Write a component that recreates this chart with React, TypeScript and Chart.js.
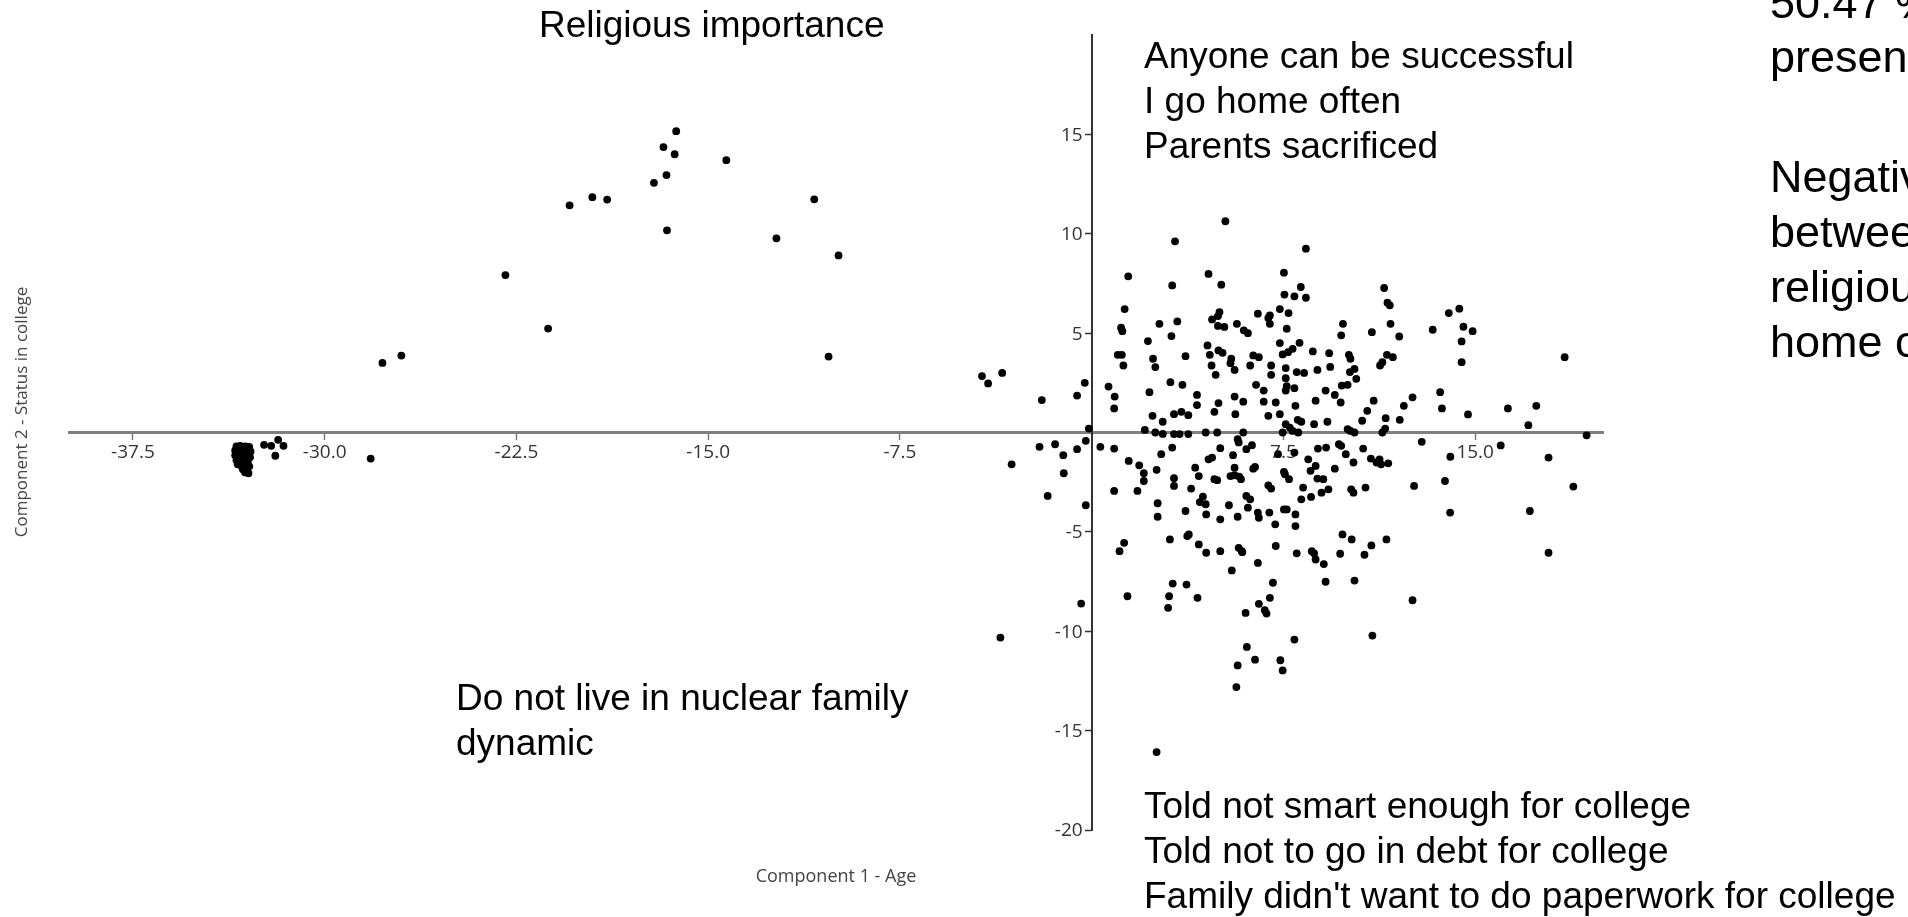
import React, { useEffect, useRef } from 'react';
import { Chart, registerables } from 'chart.js';

Chart.register(...registerables);

// ---- axis data ----
const xRange = [-40, 20];
const yRange = [-20, 20];
const xTickValues = [-37.5, -30, -22.5, -15, -7.5, 7.5, 15];
const yTickValues = [-20, -15, -10, -5, 5, 10, 15];
const xAxisTitle = 'Component 1 - Age';
const yAxisTitle = 'Component 2 - Status in college';

// ---- slide notes ----
const noteTopLeft = ['Religious importance'];
const noteTopRight = ['Anyone can be successful', 'I go home often', 'Parents sacrificed'];
const noteBottomLeft = ['Do not live in nuclear family', 'dynamic'];
const noteBottomRight = [
  'Told not smart enough for college',
  'Told not to go in debt for college',
  "Family didn't want to do paperwork for college",
];
const sideNoteA = ['50.47 % of variance', 'presented'];
const sideNoteB = ['Negative correlation', 'between', 'religious', 'home often'];

// ---- scores (Component 1, Component 2) ----
const clusterScores: [number, number][] = [
  [-33.45, -0.7], [-33.3, -0.68], [-33.1, -0.7], [-32.95, -0.72], [-33.5, -0.9],
  [-33.35, -0.95], [-33.2, -0.88], [-33.05, -0.92], [-32.9, -0.95], [-33.5, -1.15],
  [-33.35, -1.2], [-33.2, -1.1], [-33.05, -1.18], [-32.92, -1.25], [-33.45, -1.4],
  [-33.3, -1.45], [-33.15, -1.38], [-33.0, -1.42], [-33.4, -1.6], [-33.25, -1.68],
  [-33.1, -1.62], [-32.95, -1.7], [-33.2, -1.85], [-33.05, -1.9], [-32.98, -2.05],
  [-33.12, -2.0],
];

const farLeftScores: [number, number][] = [
  [-32.37, -0.62], [-32.09, -0.67], [-31.82, -0.37], [-31.61, -0.67], [-31.93, -1.17],
  [-28.2, -1.31],
];

const upperLeftScores: [number, number][] = [
  [-16.25, 15.16], [-16.75, 14.36], [-16.31, 14.0], [-16.63, 12.95], [-17.12, 12.56],
  [-16.61, 10.17], [-20.42, 11.43], [-19.53, 11.84], [-18.95, 11.72], [-22.93, 7.92],
  [-21.26, 5.23], [-27.74, 3.5], [-27.0, 3.87], [-14.29, 13.7], [-12.33, 9.77],
  [-10.85, 11.73], [-9.9, 8.91], [-10.29, 3.82], [-4.29, 2.84], [-4.05, 2.47],
  [-3.5, 3.0], [-3.57, -10.32],
];

const upperCloudScores: [number, number][] = [
  [5.23, 10.63], [3.26, 9.62], [8.38, 9.25], [1.43, 7.86], [4.57, 7.98], [7.52, 8.04],
  [3.15, 7.4], [5.07, 7.44], [11.44, 7.27], [8.18, 7.32], [7.54, 6.94], [7.93, 6.85],
  [8.38, 6.78], [11.57, 6.53], [11.66, 6.4], [6.5, 5.98], [7.36, 6.21], [7.7, 6.01],
  [6.97, 5.89], [6.91, 5.76], [6.97, 5.47], [1.29, 6.21], [5.0, 6.06], [4.94, 5.86],
  [4.71, 5.69], [3.35, 5.59], [2.65, 5.47], [1.15, 5.27], [1.2, 5.1], [4.94, 5.36],
  [5.19, 5.31], [5.68, 5.47], [5.95, 5.14], [6.11, 5.0], [7.63, 5.22], [9.83, 5.47],
  [9.76, 4.89], [11.69, 5.47], [10.96, 5.05], [12.03, 4.83], [13.34, 5.17], [13.97, 6.01],
  [14.38, 6.23], [14.54, 5.32], [14.9, 5.1], [14.47, 4.58], [14.47, 3.54], [18.5, 3.79],
  [2.2, 4.6], [3.12, 4.85], [7.36, 4.5], [8.13, 4.51], [4.53, 4.38], [4.62, 3.91],
  [4.96, 4.13], [5.12, 4.01], [5.46, 3.71], [5.43, 3.49], [6.32, 3.88], [6.54, 3.79],
  [6.2, 3.37], [8.65, 4.08], [9.29, 3.99], [7.47, 3.93], [7.68, 4.04], [7.86, 4.21],
  [10.06, 3.91], [10.12, 3.71], [11.28, 3.37], [11.55, 3.91], [11.37, 3.54], [11.78, 3.79],
  [10.28, 3.2], [1.02, 3.91], [1.18, 3.91], [1.24, 3.37], [2.4, 3.71], [2.49, 3.29],
  [3.67, 3.84], [4.69, 3.37], [4.85, 2.9], [5.59, 3.15], [7.02, 3.37], [7.59, 3.24],
  [8.02, 3.04], [8.31, 3.0], [8.83, 3.15], [9.33, 3.3], [10.1, 3.04], [10.35, 2.7],
  [-0.27, 2.5], [0.66, 2.31], [3.08, 2.53], [3.55, 2.4], [2.26, 2.03], [-0.57, 1.86],
  [0.9, 1.81], [4.12, 1.89], [5.59, 1.81], [6.43, 2.4], [6.73, 2.11], [7.02, 2.9],
  [7.59, 2.73], [7.63, 2.33], [7.59, 2.11], [7.93, 2.23], [9.15, 2.11], [9.51, 1.89],
  [9.78, 2.36], [10.01, 2.4], [13.63, 2.03], [12.55, 1.77],
];

const axisBandScores: [number, number][] = [
  [-1.95, 1.63], [0.88, 1.21], [2.38, 0.84], [2.78, 0.54], [3.22, 0.92], [3.51, 1.04],
  [3.78, 0.87], [4.12, 1.38], [4.8, 1.04], [4.96, 1.48], [5.62, 0.92], [5.93, 1.55],
  [6.73, 1.55], [6.91, 0.84], [7.2, 1.51], [7.36, 0.92], [7.59, 0.42], [7.75, 0.25],
  [7.97, 1.34], [8.06, 0.64], [8.2, 0.54], [8.76, 1.6], [8.7, 0.42], [9.22, 0.54],
  [9.74, 1.51], [10.01, 0.17], [10.58, 0.59], [10.78, 1.09], [11.03, 1.6], [11.48, 0.2],
  [11.5, 0.72], [12.05, 0.64], [12.21, 1.34], [13.7, 1.21], [14.72, 0.91], [16.28, 1.21],
  [17.39, 1.34], [17.08, 0.37],
  [-0.11, 0.2], [2.08, 0.13], [2.49, 0.0], [2.78, -0.07], [3.22, -0.08], [3.44, -0.08],
  [3.78, -0.08], [4.46, 0.0], [4.91, 0.0], [5.93, 0.0], [7.47, 0.0], [7.86, 0.08],
  [8.08, 0.0], [10.12, 0.08], [10.28, 0.0], [11.37, 0.0], [19.36, -0.14],
];

const lowerCloudScores: [number, number][] = [
  [-2.04, -0.72], [-1.43, -0.59], [-1.11, -1.14], [-0.57, -0.84], [-0.23, -0.42], [0.34, -0.72],
  [0.88, -0.81], [-3.13, -1.6], [-1.09, -2.05], [-1.72, -3.19], [-0.23, -3.66], [0.88, -2.94],
  [1.45, -1.43], [1.79, -2.94], [1.86, -1.65], [2.04, -2.05], [2.04, -2.44], [2.54, -1.88],
  [2.58, -3.56], [2.58, -4.24], [2.72, -1.09], [3.15, -0.76], [3.22, -2.3], [3.22, -2.69],
  [3.67, -3.95], [3.74, -5.21], [3.8, -5.13], [3.89, -2.82], [4.05, -1.77], [4.19, -2.19],
  [4.23, -3.5], [4.19, -5.63], [4.35, -3.23], [4.46, -3.61], [4.48, -4.12], [4.48, -6.05],
  [4.57, -1.35], [4.71, -1.26], [4.8, -2.35], [4.91, -2.4], [5.03, -0.79], [5.03, -4.37],
  [5.03, -5.97], [5.37, -3.66], [5.43, -2.19], [5.53, -1.14], [5.59, -1.77], [5.59, -2.15],
  [5.71, -0.34], [5.71, -4.24], [5.75, -0.5], [5.77, -2.22], [5.84, -2.35], [5.87, -5.97],
  [6.05, -0.84], [6.05, -3.19], [6.11, -3.78], [6.2, -3.36], [6.27, -0.64], [6.32, -1.82],
  [6.39, -1.73], [6.5, -4.03], [6.54, -4.29], [6.91, -2.66], [6.95, -4.03], [7.02, -2.82],
  [7.18, -4.62], [7.2, -5.71], [7.29, -1.09], [7.52, -1.98], [7.56, -2.1], [7.52, -3.87],
  [7.63, -3.87], [7.72, -2.35], [7.93, -1.01], [7.97, -4.71], [7.97, -4.12], [8.02, -6.08],
  [8.2, -3.36], [8.27, -2.77], [8.47, -1.35], [8.56, -1.93], [8.58, -3.24], [8.76, -1.68],
  [8.83, -2.32], [8.85, -0.81], [8.99, -3.03], [9.06, -2.35], [9.17, -0.76], [9.26, -2.86],
  [9.51, -1.82], [9.67, -0.59], [9.76, -0.67], [9.94, -1.09], [10.15, -2.86], [10.24, -3.03],
  [10.24, -1.51], [10.62, -0.81], [10.71, -2.77], [10.92, -1.31], [11.14, -1.51], [11.26, -1.35],
  [11.32, -1.6], [11.6, -1.55], [12.91, -0.47], [12.61, -2.69], [13.82, -2.44], [14.02, -4.03],
  [14.03, -1.22], [16.0, -0.65], [17.87, -1.26], [18.84, -2.72], [17.14, -3.95],
];

const tailScores: [number, number][] = [
  [3.06, -5.38], [1.09, -5.97], [1.27, -5.55], [5.75, -5.8], [5.89, -6.02], [5.48, -6.94],
  [6.5, -6.56], [8.61, -5.97], [8.7, -6.08], [8.76, -6.39], [9.08, -6.62], [9.15, -7.51],
  [9.81, -5.13], [10.17, -5.38], [9.72, -6.1], [10.28, -7.45], [10.67, -6.15], [10.94, -5.68],
  [11.53, -5.38], [17.87, -6.05], [1.4, -8.24], [3.03, -8.24], [2.99, -8.82], [3.17, -7.6],
  [3.71, -7.65], [4.14, -8.32], [6.02, -9.08], [6.54, -8.62], [6.77, -8.94], [6.84, -9.11],
  [6.97, -8.32], [7.09, -7.56], [12.55, -8.44], [-0.41, -8.61], [7.93, -10.42], [10.98, -10.22],
  [6.07, -10.79], [5.71, -11.72], [6.39, -11.43], [7.38, -11.46], [7.47, -11.97], [5.66, -12.81],
  [2.54, -16.08],
];

const allScores = [
  ...clusterScores, ...farLeftScores, ...upperLeftScores, ...upperCloudScores,
  ...axisBandScores, ...lowerCloudScores, ...tailScores,
];

const NOTE_FONT = '"Liberation Sans", Arial, sans-serif';
const AXIS_FONT = '"Open Sans", "Noto Sans", sans-serif';

// y tick labels: Chart.js does not offset labels of an axis positioned at x = 0,
// so they are drawn here from the y scale, left of the tick marks.
const yTickLabelPlugin = {
  id: 'yTickLabels',
  beforeDatasetsDraw(chart: any) {
    const ctx: CanvasRenderingContext2D = chart.ctx;
    const ys = chart.scales.y;
    const xs = chart.scales.x;
    const x0 = xs.getPixelForValue(0);
    ctx.save();
    ctx.font = `19px ${AXIS_FONT}`;
    ctx.fillStyle = '#333333';
    ctx.textAlign = 'right';
    ctx.textBaseline = 'middle';
    yTickValues.forEach((v) => {
      ctx.fillText(String(v), x0 - 9, ys.getPixelForValue(v) + 1);
    });
    ctx.restore();
  },
};

const slideTextPlugin = {
  id: 'slideText',
  afterDraw(chart: any) {
    const ctx: CanvasRenderingContext2D = chart.ctx;
    ctx.save();
    ctx.textAlign = 'left';
    ctx.textBaseline = 'alphabetic';
    ctx.fillStyle = '#000000';
    ctx.font = `37px ${NOTE_FONT}`;
    const drawLines = (lines: string[], x: number, y0: number, step: number) => {
      lines.forEach((t, i) => ctx.fillText(t, x, y0 + i * step));
    };
    drawLines(noteTopLeft, 539, 37, 45);
    drawLines(noteTopRight, 1144, 68, 45);
    drawLines(noteBottomLeft, 456, 710, 45);
    drawLines(noteBottomRight, 1144, 818, 45);
    ctx.font = `45px ${NOTE_FONT}`;
    drawLines(sideNoteA, 1770, 18, 54);
    drawLines(sideNoteB, 1770, 192, 55);

    // axis titles
    ctx.fillStyle = '#444444';
    ctx.font = `18px ${AXIS_FONT}`;
    ctx.textAlign = 'center';
    ctx.fillText(xAxisTitle, 836, 882);
    ctx.font = `17px ${AXIS_FONT}`;
    ctx.translate(22, 412);
    ctx.rotate(-Math.PI / 2);
    ctx.textBaseline = 'middle';
    ctx.fillText(yAxisTitle, 0, 0);
    ctx.restore();
  },
};

export default function App() {
  const canvasRef = useRef<HTMLCanvasElement | null>(null);

  useEffect(() => {
    if (!canvasRef.current) return;
    const chart = new Chart(canvasRef.current, {
      type: 'scatter',
      data: {
        datasets: [
          {
            data: allScores.map(([x, y]) => ({ x, y })),
            backgroundColor: '#000000',
            borderWidth: 0,
            pointRadius: 3.9,
            pointHoverRadius: 3.9,
          },
        ],
      },
      options: {
        animation: false,
        responsive: true,
        maintainAspectRatio: false,
        events: [],
        layout: { padding: { left: 69, right: 305, top: 35, bottom: 87 } },
        plugins: { legend: { display: false }, tooltip: { enabled: false }, title: { display: false } },
        scales: {
          x: {
            type: 'linear',
            min: xRange[0],
            max: xRange[1],
            position: { y: 0 } as any,
            afterBuildTicks: (axis: any) => {
              axis.ticks = xTickValues.map((v) => ({ value: v }));
            },
            grid: {
              display: true,
              drawOnChartArea: false,
              drawTicks: true,
              tickLength: 6,
              tickColor: '#7a7a7a',
              tickWidth: 1.5,
            },
            border: { display: true, color: '#7f7f7f', width: 3 },
            ticks: {
              color: '#333333',
              font: { size: 19, family: AXIS_FONT },
              padding: 3,
              autoSkip: false,
              maxRotation: 0,
              callback: (v: any) => Number(v).toFixed(1),
            },
            title: { display: false },
          },
          y: {
            type: 'linear',
            min: yRange[0],
            max: yRange[1],
            position: { x: 0 } as any,
            afterBuildTicks: (axis: any) => {
              axis.ticks = yTickValues.map((v) => ({ value: v }));
            },
            grid: {
              display: true,
              drawOnChartArea: false,
              drawTicks: true,
              tickLength: 6,
              tickColor: '#333333',
              tickWidth: 1.5,
            },
            border: { display: true, color: '#333333', width: 2 },
            ticks: { display: false },
            title: { display: false },
          },
        },
      },
      plugins: [yTickLabelPlugin, slideTextPlugin],
    });
    return () => chart.destroy();
  }, []);

  return (
    <div
      style={{
        position: 'fixed',
        left: 0,
        top: 0,
        width: '1908px',
        height: '917px',
        background: '#ffffff',
      }}
    >
      <canvas ref={canvasRef} />
    </div>
  );
}
